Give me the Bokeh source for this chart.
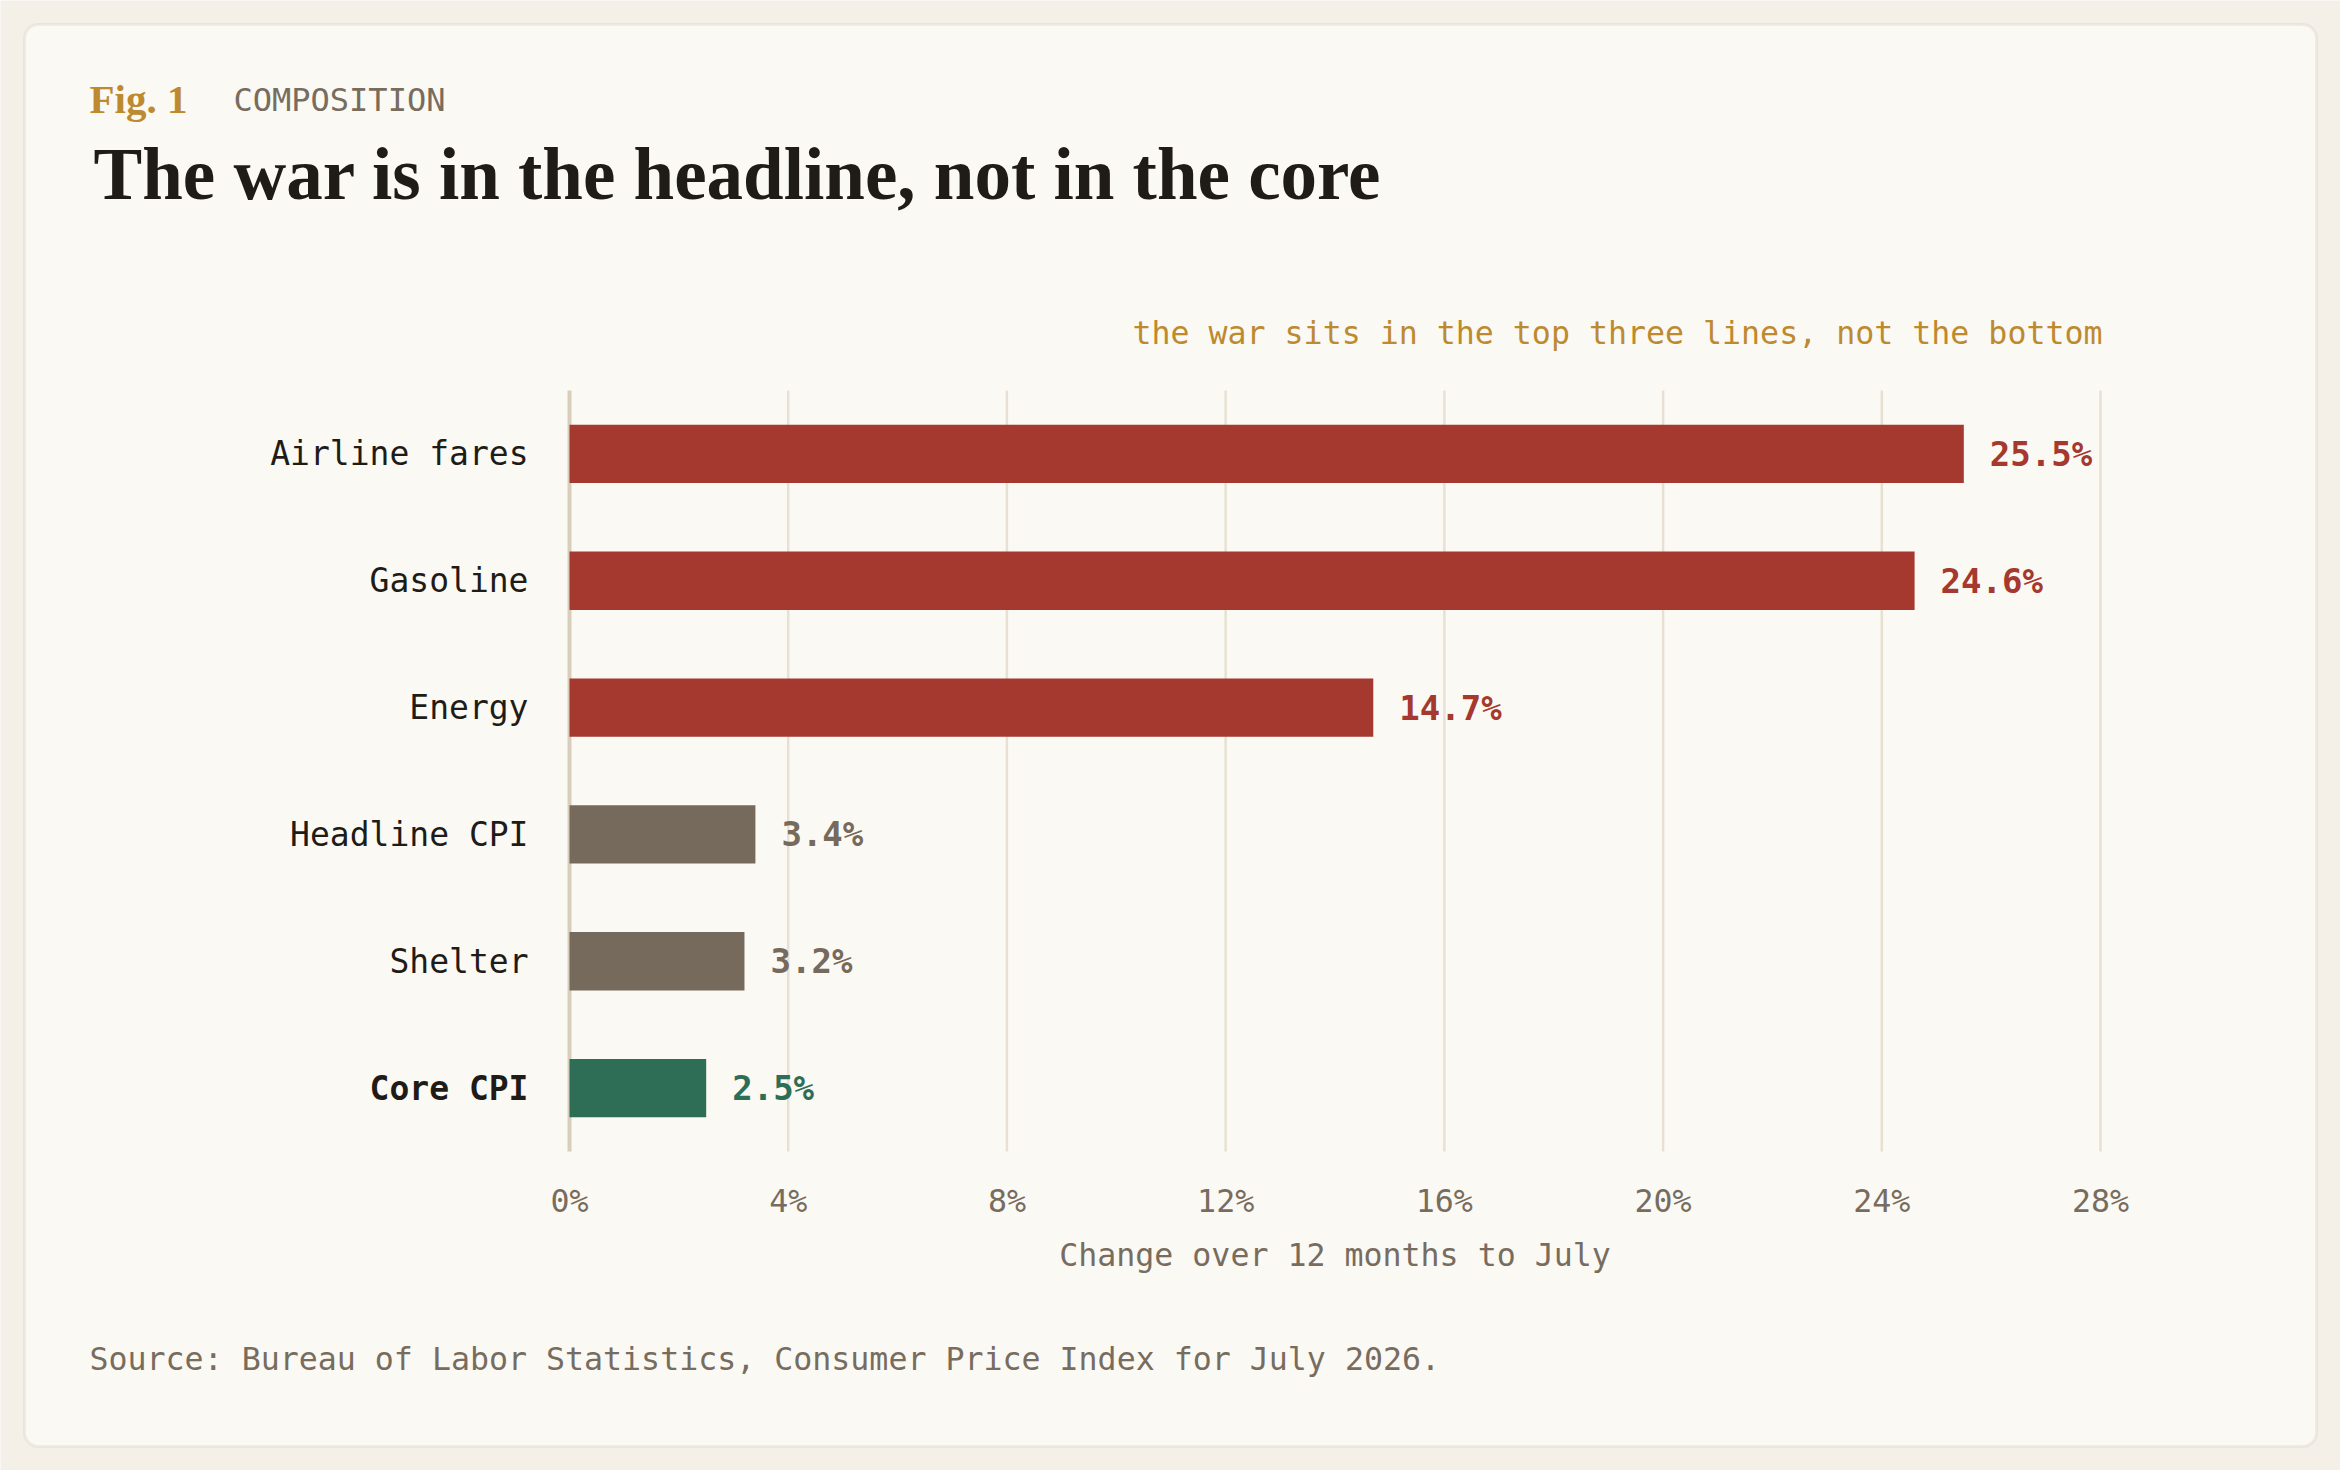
from bokeh.plotting import figure
from bokeh.models import (Label, LabelSet, ColumnDataSource, Range1d, LinearAxis,
                          FixedTicker, BoxAnnotation)
from bokeh.core.properties import value
from bokeh.embed import file_html
from bokeh.resources import INLINE

# ---- data ----
categories = ["Airline fares", "Gasoline", "Energy", "Headline CPI", "Shelter", "Core CPI"]
values = [25.5, 24.6, 14.7, 3.4, 3.2, 2.5]
groups = ["war", "war", "war", "other", "other", "core"]
bold_rows = ["Core CPI"]
x_ticks = [0, 4, 8, 12, 16, 20, 24, 28]
x_tick_labels = ["0%", "4%", "8%", "12%", "16%", "20%", "24%", "28%"]
x_max = 28

# ---- style ----
OUTER = "#f4f0e7"
CARD = "#fbf9f4"
CARD_BORDER = "#d4cdbf"
GOLD = "#bd8a2f"
INK = "#1f1c17"
MUTED = "#776c5e"
GRID = "#e8e1d3"
ZERO = "#d8cebb"
GROUP_COLORS = {"war": "#a5382f", "other": "#756a5b", "core": "#2e6e56"}
MONO = "DejaVu Sans Mono"
SERIF = "Liberation Serif"
SMALL = "31.6px"

# ---- layout (page pixels) ----
W, H = 2340, 1470
PLOT_L, PLOT_R, PLOT_T, PLOT_B = 569, 2100, 390, 1151
n = len(categories)
ppx = (PLOT_R - PLOT_L) / x_max
ppy = (PLOT_B - PLOT_T) / n


def px2x(px):
    return (px - PLOT_L) / ppx


def py2y(py):
    return (PLOT_B - py) / ppy


colors = [GROUP_COLORS[g] for g in groups]
value_text = [f"{v:.1f}%" for v in values]
ypos = [n - 0.5 - i for i in range(n)]  # first category on top

src = ColumnDataSource(dict(cat=categories, val=values, color=colors, vtext=value_text,
                            y=ypos, x0=[0] * n))

p = figure(width=W, height=H, output_backend="svg", toolbar_location=None, tools="",
           x_range=Range1d(px2x(0), px2x(W)), y_range=Range1d(py2y(H), py2y(0)),
           x_axis_location=None, y_axis_location=None,
           min_border=0, min_border_left=0, min_border_right=0,
           min_border_top=0, min_border_bottom=0,
           background_fill_color=OUTER, border_fill_color=OUTER,
           outline_line_color=None)
p.title.visible = False
p.xgrid.visible = False
p.ygrid.visible = False

# card
card = BoxAnnotation(left=px2x(24), right=px2x(2316), top=py2y(24), bottom=py2y(1446),
                     fill_color=CARD, fill_alpha=1, line_color=CARD_BORDER, line_width=3,
                     border_radius=14, level="image")
p.add_layout(card)

# gridlines and zero line
p.segment(x0=x_ticks[1:], y0=0, x1=x_ticks[1:], y1=n, line_color=GRID, line_width=2.5)
p.segment(x0=[0], y0=0, x1=[0], y1=n, line_color=ZERO, line_width=4)

# x axis (inside the frame, at the bottom of the bars area)
xaxis = LinearAxis(fixed_location=0, ticker=FixedTicker(ticks=x_ticks),
                   major_label_overrides={t: l for t, l in zip(x_ticks, x_tick_labels)},
                   axis_line_color=None, major_tick_line_color=None,
                   minor_tick_line_color=None, major_tick_out=0, major_tick_in=0,
                   major_label_standoff=31,
                   major_label_text_font=MONO, major_label_text_font_size=SMALL,
                   major_label_text_color=MUTED)
p.add_layout(xaxis, "below")

# bars
p.hbar(y="y", left=0, right="val", height=0.46, fill_color="color", line_color=None, source=src)

# category labels
for style in ("normal", "bold"):
    idx = [i for i, c in enumerate(categories) if (c in bold_rows) == (style == "bold")]
    s = ColumnDataSource(dict(cat=[categories[i] for i in idx], y=[ypos[i] for i in idx],
                              x=[0] * len(idx)))
    p.add_layout(LabelSet(x="x", y="y", text="cat", source=s, x_offset=-41,
                          text_align="right", text_baseline="middle",
                          text_font=value(MONO), text_font_size=value("33px"),
                          text_font_style=value(style), text_color=value(INK)))

# value labels
p.add_layout(LabelSet(x="val", y="y", text="vtext", source=src, x_offset=26,
                      text_align="left", text_baseline="middle",
                      text_font=value(MONO), text_font_size=value("34px"),
                      text_font_style=value("bold"), text_color="color"))


# header / footer texts
def label(x, y, text, font, size, color, style="normal", align="left"):
    p.add_layout(Label(x=px2x(x), y=py2y(y), text=text,
                       text_font=font, text_font_size=size, text_font_style=style,
                       text_color=color, text_align=align, text_baseline="middle"))


label(89, 98, "Fig. 1", SERIF, "41px", GOLD, style="bold")
label(233, 99, "COMPOSITION", MONO, "32px", MUTED)
label(93, 174, "The war is in the headline, not in the core", SERIF, "73px", INK, style="bold")
label(PLOT_R + 2, 332, "the war sits in the top three lines, not the bottom", MONO, SMALL, GOLD,
      align="right")
label((PLOT_L + PLOT_R) / 2, 1254, "Change over 12 months to July", MONO, SMALL, MUTED,
      align="center")
label(89, 1358, "Source: Bureau of Labor Statistics, Consumer Price Index for July 2026.",
      MONO, SMALL, MUTED)

open("out.html", "w").write(file_html(p, INLINE, title="The war is in the headline, not in the core"))
